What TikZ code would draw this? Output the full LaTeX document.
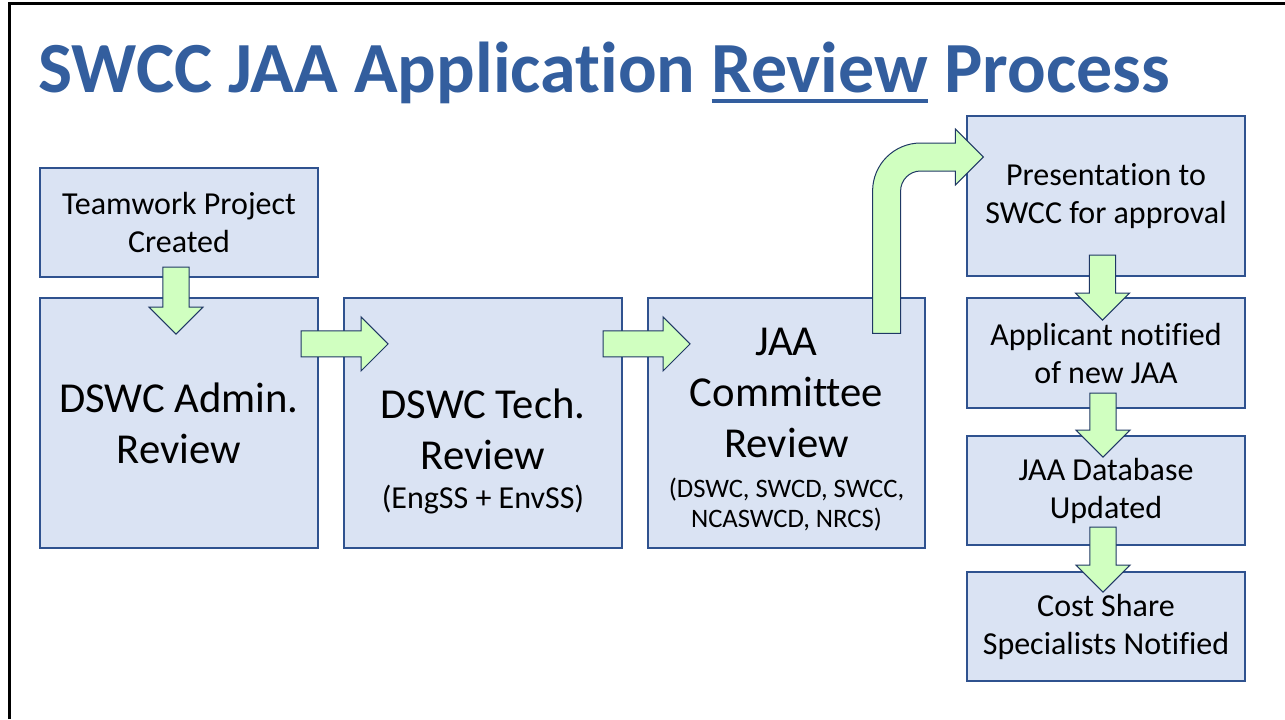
\documentclass[tikz,border=0pt]{standalone}
\usepackage{fontspec}
\setmainfont{Carlito}[Ligatures=NoCommon]
\usetikzlibrary{shapes, calc}
\newcommand{\titleul}[1]{\setbox0\hbox{#1}\rlap{\rule[-8.25pt]{\wd0}{3pt}}\box0\relax}

\begin{document}
\begin{tikzpicture}[x=0.75pt,y=-0.75pt,
  box/.style={rectangle,
              draw=boxline,
              fill=boxfill,
              line width=0.9pt,
              align=center,
              inner sep=0pt,
              minimum width=208.5pt},
  bigtext/.style={font=\fontsize{32}{38.5}\selectfont},
  midtext/.style={font=\fontsize{24}{28.5}\selectfont},
  blockarrow/.style={single arrow,
                     draw=arrowline,
                     fill=arrowgreen,
                     line width=0.75pt,
                     inner xsep=0pt,
                     inner ysep=9.4pt,
                     single arrow head extend=10.5pt}]
\definecolor{titleblue}{RGB}{51,94,158};
\definecolor{boxfill}{RGB}{218,227,243};
\definecolor{boxline}{RGB}{47,82,143};
\definecolor{arrowgreen}{RGB}{208,255,192};
\definecolor{arrowline}{RGB}{31,56,100};
\useasboundingbox (0,0) rectangle (1285,719);
\draw [line width=1.9pt] (9.5,719) -- (9.5,3.5) -- (1285,3.5);
\node [anchor=base west,
       text=titleblue,
       inner sep=0pt,
       font=\fontsize{54}{60}\selectfont\bfseries] (ttl) at (38,92) {SWCC JAA Application \titleul{Review} Process};
% left column and middle row
\node [box, midtext, minimum height=81.75pt] (twp) at (179,222.5) {Teamwork Project\\Created};
\node [box, bigtext, minimum height=187.5pt] (adm) at (179,423) {DSWC Admin.\\Review};
\node [box, bigtext, minimum height=187.5pt] (tech) at (483,423) {\rule{0pt}{65pt}DSWC Tech.\\Review\\[-9pt]
	{\fontsize{24}{28}\selectfont (EngSS + EnvSS)}};
\node [box, bigtext, minimum height=187.5pt, minimum width=207.75pt] (jaac) at (786.5,423) {\rule{0pt}{30.75pt}JAA\\Committee\\Review\\[-8.5pt]
	{\fontsize{20}{24}\selectfont (DSWC, SWCD, SWCC,}\\[-16pt]
	{\fontsize{20}{24}\selectfont NCASWCD, NRCS)}};
% right column
\node [box, midtext, minimum height=120pt] (pres) at (1106,196) {Presentation to\\SWCC for approval};
\node [box, midtext, minimum height=82.5pt] (appn) at (1106,353) {Applicant notified\\of new JAA};
\node [box, midtext, minimum height=81.75pt] (jdb) at (1106,490.5) {JAA Database\\Updated};
\node [box, midtext, minimum height=81.75pt] (css) at (1106,626.5) {Cost Share\\Specialists Notified};
% block arrows
\node [blockarrow, rotate=-90, minimum height=50.25pt, anchor=tail] (ar1) at ($(twp.south)+(-3,-11)$) {};
\node [blockarrow, minimum height=65.25pt, anchor=tail] (ar2) at ($(adm.north east)+(-18,46.5)$) {};
\node [blockarrow, minimum height=65.25pt, anchor=tail] (ar3) at ($(tech.north east)+(-20,46.5)$) {};
\node [blockarrow, rotate=-90, minimum height=48.75pt, anchor=tail] (ar4) at ($(pres.south)+(-3.5,-22)$) {};
\node [blockarrow, rotate=-90, minimum height=48pt, anchor=tail] (ar5) at ($(appn.south)+(-3,-16)$) {};
\node [blockarrow, rotate=-90, minimum height=48.75pt, anchor=tail] (ar6) at ($(jdb.south)+(-3,-19)$) {};
\coordinate (bt) at ($(jaac.north east)+(-39,36)$);
\coordinate (bh) at ($(pres.west)+(17,-39)$);
\draw [draw=arrowline, fill=arrowgreen, line width=0.75pt] ($(bt)+(-14,0)$) -- ($(bt |- bh)+(-14,34)$) arc (180:270:48)
	-- ($(bh)+(-28,-14)$) -- ($(bh)+(-28,-28)$) -- (bh) -- ($(bh)+(-28,28)$) -- ($(bh)+(-28,14)$)
	-- ($(bt |- bh)+(34,14)$) arc (270:180:20) -- ($(bt)+(14,0)$) -- cycle;
\end{tikzpicture}
\end{document}
